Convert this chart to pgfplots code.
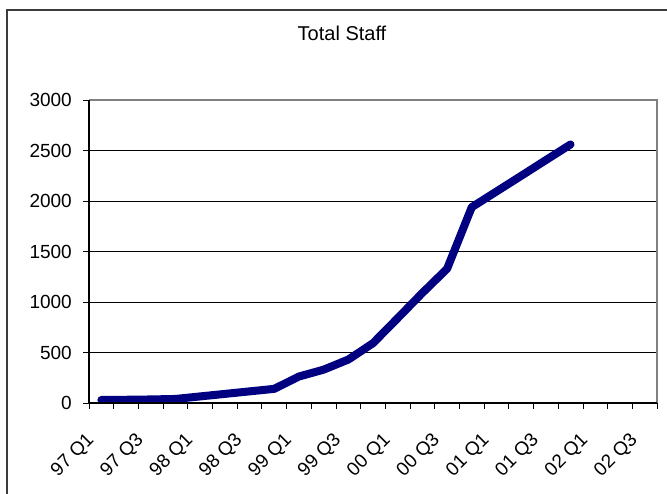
\documentclass[border=0pt]{standalone}
\usepackage{pgfplots}
\pgfplotsset{compat=1.18}
\usepackage{fontspec}
\setmainfont{Liberation Sans}
\definecolor{navyline}{RGB}{0,0,128}
\definecolor{bordergray}{RGB}{128,128,128}
\begin{document}
\begin{tikzpicture}
\path[use as bounding box] (-89pt,-91pt) rectangle (578pt,403pt);
\draw[line width=1.3pt, color={rgb,255:red,60;green,60;blue,60}] (-82pt,-100pt) -- (-82pt,393pt) -- (600pt,393pt);
\begin{axis}[
  at={(0pt,0pt)}, anchor=south west,
  scale only axis,
  width=568pt, height=303pt,
  xmin=-0.5, xmax=22.5,
  ymin=0, ymax=3000,
  axis line style={draw=none},
  xtick={-0.5,0.5,...,22.5},
  xticklabels={},
  extra x ticks={0,2,...,22},
  extra x tick labels={97 Q1,97 Q3,98 Q1,98 Q3,99 Q1,99 Q3,00 Q1,00 Q3,01 Q1,01 Q3,02 Q1,02 Q3},
  extra x tick style={major tick length=0pt, grid=none},
  ytick={0,500,...,3000},
  ymajorgrids,
  grid style={black, line width=0.7pt},
  tick align=outside,
  major tick length=6pt,
  tick style={black, line width=0.8pt},
  xtick pos=bottom, ytick pos=left,
  /pgf/number format/assume math mode=true,
  /pgf/number format/1000 sep={},
  tick label style={font=\fontsize{19}{19}\selectfont},
  xticklabel style={xshift=-16pt, yshift=-28pt, rotate=45, anchor=north east, inner sep=0pt},
  yticklabel style={anchor=east, inner sep=0pt, xshift=-11pt},
  clip=false,
]
\addplot[color=navyline, line width=8pt, line cap=round, line join=round] table {
x y
0 30
1 32
2 35
3 40
4 65
5 90
6 115
7 140
8 262
9 330
10 430
11 592
12 840
13 1090
14 1329
15 1939
16 2094
17 2249
18 2405
19 2560
};
\draw[bordergray, line width=1.6pt] (rel axis cs:0,1) -- (rel axis cs:1,1) -- (rel axis cs:1,0);
\draw[black, line width=1.2pt] (rel axis cs:0,1) -- (rel axis cs:0,0) -- (rel axis cs:1,0);
\end{axis}
\node[anchor=base, inner sep=0pt, font=\fontsize{20}{20}\selectfont] at (253pt,362pt) {Total Staff};
\end{tikzpicture}
\end{document}
